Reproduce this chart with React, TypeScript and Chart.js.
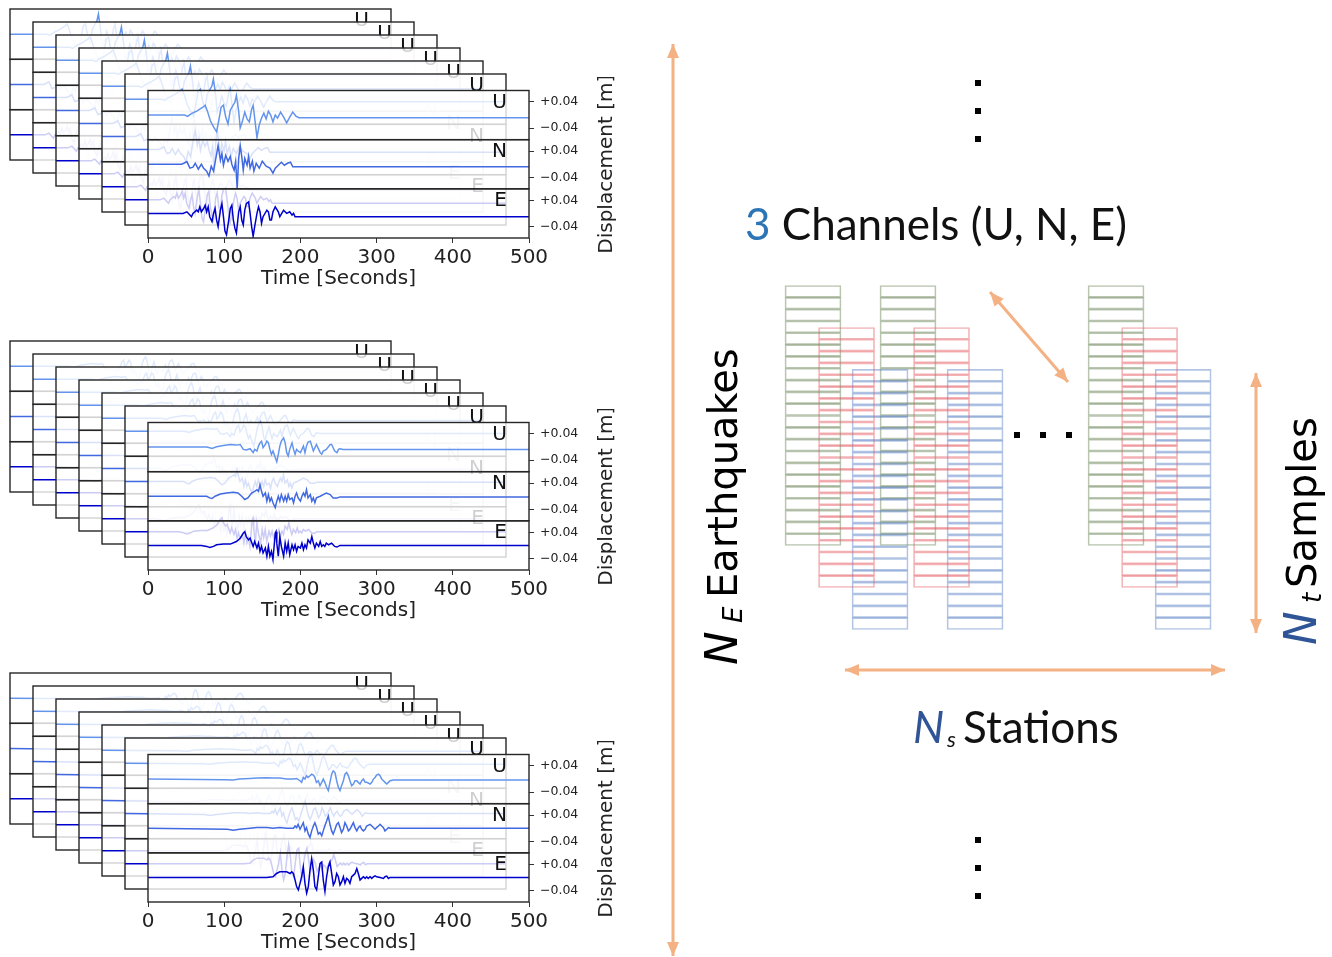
import React, { useEffect, useRef } from 'react';
import { Chart, registerables } from 'chart.js';

Chart.register(...registerables);

type Pt = [number, number]; // [time in s, displacement in mm]

// ---------------- data ----------------
const timeTicks = [0, 100, 200, 300, 400, 500];
const dispTicksMM = [-40, 40];
const channelNames = ['U', 'N', 'E'];
const traceColors = ['#6495ED', '#4169E1', '#0000CD'];
const stationsPerEvent = 7;

const ev1U: Pt[] = [[0,0],[48,0],[52,-4],[56,3],[60,8],[64,12],[68,18],[72,24],[75,30],[78,12],[82,-18],[86,-36],[90,-51],[93,-15],[96,24],[99,30],[102,-6],[105,-27],[108,15],[111,27],[114,39],[116,60],[119,12],[121,-39],[124,-18],[127,9],[130,-12],[133,-21],[136,18],[138,30],[140,-9],[143,-69],[146,-30],[149,-9],[152,6],[155,-12],[158,12],[161,0],[164,-21],[167,0],[170,-9],[174,9],[178,-6],[182,-24],[186,-6],[190,9],[194,-3],[198,-8],[500,-8]];
const ev1N: Pt[] = [[0,0],[44,0],[47,3],[51,8],[55,-12],[59,-9],[62,3],[66,-15],[70,0],[73,-12],[77,-21],[80,-36],[83,-6],[86,-21],[89,18],[92,57],[95,12],[97,33],[99,-3],[102,27],[105,9],[108,24],[110,0],[113,-18],[115,9],[117,-74],[119,18],[121,57],[123,24],[125,-18],[127,18],[130,-3],[132,24],[134,-12],[137,9],[139,-21],[142,3],[146,-12],[150,9],[155,-6],[160,-12],[164,-27],[167,-12],[171,-3],[175,6],[179,-3],[183,3],[187,6],[190,-8],[195,-8],[500,-8]];
const ev1E: Pt[] = [[0,0],[46,0],[51,5],[55,-5],[57,-10],[59,0],[64,10],[66,5],[68,20],[70,5],[73,15],[75,25],[77,5],[79,20],[81,-10],[84,-25],[86,0],[88,15],[90,-20],[92,-40],[95,10],[97,30],[99,-10],[101,-54],[103,-65],[106,-20],[108,15],[110,25],[112,-20],[114,-45],[116,-60],[119,5],[121,20],[123,-20],[125,-35],[127,10],[129,30],[132,35],[134,0],[136,-40],[138,-70],[140,-40],[143,0],[145,20],[147,5],[149,-30],[151,-10],[156,10],[158,5],[160,-20],[162,-20],[164,5],[167,20],[171,5],[173,-10],[178,10],[182,0],[186,5],[189,-5],[191,0],[193,-10],[500,-10]];

const ev2U: Pt[] = [[0,0],[77,0],[81,-2],[84,-4],[90,1],[99,5],[108,8],[116,6],[121,8],[125,-7],[129,-9],[134,-5],[138,-17],[140,-7],[143,-12],[145,3],[147,13],[149,18],[151,-2],[154,8],[156,18],[158,13],[160,-7],[162,-22],[164,-12],[167,-32],[169,-45],[171,-22],[173,3],[175,18],[178,28],[180,13],[182,-17],[184,-27],[186,-7],[189,13],[191,-7],[193,-22],[195,-7],[197,-12],[200,-17],[202,-7],[204,3],[206,-17],[208,3],[210,15],[213,18],[215,3],[217,-12],[219,-2],[221,8],[224,-7],[226,-17],[228,-22],[230,-12],[234,-7],[239,8],[241,8],[243,-2],[245,-12],[248,-17],[250,-7],[252,-5],[256,-7],[500,-7]];
const ev2N: Pt[] = [[0,0],[77,0],[81,-5],[84,-7],[88,0],[95,7],[103,10],[112,12],[118,10],[123,0],[127,-10],[131,-5],[136,10],[140,15],[143,20],[145,15],[147,35],[149,15],[151,0],[154,10],[156,-15],[158,5],[160,-15],[162,-5],[164,-20],[167,-35],[169,-15],[171,0],[173,-15],[175,5],[178,-15],[180,0],[182,-15],[184,5],[186,-10],[189,-5],[191,-20],[193,0],[195,10],[197,-5],[200,-15],[202,0],[204,10],[206,0],[208,20],[210,-5],[213,5],[215,-15],[217,-5],[219,-20],[221,-5],[226,0],[230,5],[234,10],[239,5],[243,-5],[248,-5],[252,-2],[500,-2]];
const ev2E: Pt[] = [[0,0],[70,0],[77,-3],[81,-6],[86,-3],[90,2],[99,4],[108,4],[116,12],[121,22],[125,37],[127,42],[129,27],[132,17],[134,22],[138,-3],[140,12],[143,-8],[145,7],[147,-18],[149,-3],[151,-23],[154,-8],[156,-33],[158,-3],[160,-33],[162,-18],[164,-43],[167,37],[168,42],[169,7],[171,-33],[173,27],[175,-3],[178,-33],[180,7],[182,-18],[184,7],[186,-28],[189,2],[191,-13],[193,2],[195,-18],[197,-3],[200,-8],[202,7],[204,-13],[206,2],[208,-8],[210,17],[213,7],[215,27],[217,7],[219,-8],[221,7],[224,-3],[226,12],[228,-3],[230,2],[232,-3],[234,7],[237,2],[241,7],[245,-3],[248,-5],[252,0],[500,0]];

const ev3U: Pt[] = [[0,0],[100,-2],[112,-3],[120,0],[134,2],[143,3],[156,4],[164,3],[173,3],[182,0],[191,0],[195,2],[199.5,-5],[201.6,-10],[203.8,5],[206,0],[208,10],[210,5],[212.6,10],[214.8,15],[217,12],[219,5],[221,-10],[223.5,-5],[225.7,-20],[228,-10],[230,0],[232,-10],[234.4,-25],[236.6,-35],[238.8,-10],[241,15],[243,25],[245.4,20],[247.6,-5],[249.8,-25],[252,-35],[254,-20],[256.4,-5],[258.5,15],[260.7,20],[263,10],[265,-5],[267.3,-20],[269.5,-15],[271.7,-5],[274,-5],[276,-10],[278.3,-15],[280.5,-5],[282.7,0],[285,-10],[287,-10],[291.5,-15],[293.7,-10],[295.8,0],[298,5],[300,12],[302.4,15],[304.6,10],[306.7,0],[309,-5],[311,-10],[313.3,-15],[315.5,-10],[317.7,-5],[322,-3],[500,-3]];
const ev3N: Pt[] = [[0,0],[104,-3],[112,-6],[120,-3],[134,0],[143,2],[156,2],[164,0],[173,2],[182,0],[191,0],[193,7],[195,2],[197,12],[199.5,-3],[201.6,7],[203.8,17],[206,-8],[208,2],[210.4,-18],[212.6,-28],[214.8,-8],[217,7],[219,17],[221.3,2],[223.5,-18],[225.7,-13],[228,-23],[230,-8],[232,7],[234.4,22],[236.6,37],[238.8,12],[241,-8],[243,-18],[245.4,-3],[247.6,12],[249.8,17],[252,2],[254,-13],[256.4,-3],[258.5,17],[260.7,7],[263,-8],[265,-3],[267.3,7],[269.5,17],[271.7,2],[274,-8],[276,2],[278.3,7],[280.5,-3],[282.7,-8],[285,-3],[287,7],[291.5,12],[293.7,7],[295.8,2],[298,-3],[300,2],[302.4,7],[304.6,12],[306.7,7],[309,2],[311,-8],[313.3,-3],[315.5,2],[317.7,0],[500,0]];
const ev3E: Pt[] = [[0,0],[155.7,0],[164,2],[168.7,12],[173,17],[177.6,17],[182,17],[186.4,12],[188.6,17],[190.8,12],[193,-8],[195,-28],[197.3,-38],[199.5,-18],[201.6,2],[203.8,32],[206,-18],[208.2,-48],[210.4,-28],[212.6,22],[214.8,57],[217,22],[219,-28],[221.3,-38],[223.5,2],[225.7,42],[228,47],[230,-8],[232.2,-43],[234.4,2],[236.6,32],[238.8,47],[241,12],[243.2,-23],[245.4,-13],[247.6,12],[249.8,2],[252,-23],[254.2,-13],[256.4,2],[258.5,-18],[260.7,-3],[262.9,-8],[265,-18],[267.3,2],[269.5,7],[271.7,12],[274,27],[276,12],[278.3,-8],[280.5,-3],[282.7,2],[285,-3],[287,2],[289,-3],[291.5,2],[293.7,-3],[295.8,2],[298,5],[300,2],[304.6,0],[309,-3],[311,2],[313.3,4],[315.5,-3],[317.7,0],[500,0]];

const eventTraces: Pt[][][] = [
  [ev1U, ev1N, ev1E],
  [ev2U, ev2N, ev2E],
  [ev3U, ev3N, ev3E],
];

// right-hand diagram
const diagramStations = ['1', '2', 'Ns'];
const diagramChannels = ['U', 'N', 'E'];
const samplesPerColumn = 22;
const cellColors = ['rgba(115,140,95,0.5)', 'rgba(228,85,90,0.45)', 'rgba(85,125,195,0.45)'];

// ---------------- layout ----------------
const PANEL_W = 381;
const PANEL_H = 151;
const FRONT_X = 148;
const EVENT_TOP = [87, 419, 751];
const SHIFT_X = 23;
const SHIFT_Y = 13;
const FRONT_PAD_L = 40;
const FRONT_PAD_T = 10;
const RIGHT_AXIS_W = 109;
const BOTTOM_AXIS_H = 60;
const Y_IDS = ['yU', 'yN', 'yE'];
const FONT = '"DejaVu Sans"';

const OVERLAY = { left: 640, top: 0, width: 692, height: 957 };
const GRID = { left: 785, top: 285.5, slot: 95, cell: 11.82 };
const stationSlots = [0, 1, 3.19];
const chanShift = { x: 0.353, y: 3.55 };
const COL_W = 56;
const ARROW = '#F4B183';
const arrowSegments = [
  [673, 44, 673, 956],
  [990, 292, 1068, 382],
  [1256, 373, 1256, 633],
  [845, 670, 1225, 670],
];

const fmtDisp = (v: number) => (v > 0 ? '+' : '\u2212') + (Math.abs(v) / 1000).toFixed(2);

function panelConfig(traces: Pt[][], front: boolean): any {
  const scales: any = {
    x: {
      type: 'linear', position: 'bottom', min: 0, max: 500,
      afterBuildTicks: (s: any) => { s.ticks = timeTicks.map((v) => ({ value: v })); },
      afterFit: (s: any) => { s.height = front ? BOTTOM_AXIS_H : 0; },
      grid: { display: front, drawOnChartArea: false, drawTicks: true, tickLength: 5, color: '#333' },
      border: { display: false },
      ticks: { display: front, padding: 3, maxRotation: 0, autoSkip: false, color: '#222', font: { family: FONT, size: 20 } },
      title: { display: front, text: 'Time [Seconds]', color: '#222', font: { family: FONT, size: 20 }, padding: { top: 0, bottom: 7 } },
    },
  };
  Y_IDS.forEach((id) => {
    scales[id] = {
      type: 'linear', position: 'right', stack: 'channels', stackWeight: 1, min: -75, max: 75,
      afterBuildTicks: (s: any) => { s.ticks = dispTicksMM.map((v) => ({ value: v })); },
      afterFit: (s: any) => { s.width = front ? RIGHT_AXIS_W : 0; },
      grid: { display: front, drawOnChartArea: false, drawTicks: true, tickLength: 5, color: '#333' },
      border: { display: false },
      ticks: { display: front, padding: 6, color: '#222', font: { family: FONT, size: 12.5 }, callback: (v: number) => fmtDisp(v) },
    };
  });

  const panelPlugin = {
    id: 'panelFrame',
    beforeDraw(chart: any) {
      const { ctx, chartArea: a } = chart;
      ctx.save();
      ctx.fillStyle = 'rgba(255,255,255,0.8)';
      ctx.fillRect(a.left, a.top, a.width, a.height);
      ctx.restore();
    },
    afterDatasetsDraw(chart: any) {
      const { ctx, chartArea: a } = chart;
      ctx.save();
      ctx.strokeStyle = '#262626';
      ctx.lineWidth = 1.4;
      ctx.fillStyle = '#111';
      ctx.font = `20px ${FONT}`;
      ctx.textAlign = 'right';
      ctx.textBaseline = 'middle';
      Y_IDS.forEach((id, i) => {
        const s = chart.scales[id];
        ctx.strokeRect(a.left, s.top, a.width, s.bottom - s.top);
        ctx.fillText(channelNames[i], a.right - 22, s.top + 12);
      });
      ctx.restore();
    },
    afterDraw(chart: any) {
      if (!front) return;
      const { ctx, chartArea: a } = chart;
      ctx.save();
      ctx.translate(a.right + 78, (a.top + a.bottom) / 2);
      ctx.rotate(-Math.PI / 2);
      ctx.fillStyle = '#222';
      ctx.font = `20px ${FONT}`;
      ctx.textAlign = 'center';
      ctx.textBaseline = 'middle';
      ctx.fillText('Displacement [m]', 0, 0);
      ctx.restore();
    },
  };

  return {
    type: 'line',
    data: {
      datasets: traces.map((tr, i) => ({
        label: channelNames[i],
        data: tr.map(([t, v]) => ({ x: t, y: v })),
        yAxisID: Y_IDS[i],
        borderColor: traceColors[i],
        borderWidth: 1.5,
        pointRadius: 0,
        tension: 0,
      })),
    },
    options: {
      responsive: false,
      animation: false,
      devicePixelRatio: 1,
      events: [],
      layout: { padding: front ? { left: FRONT_PAD_L, top: FRONT_PAD_T, right: 0, bottom: 0 } : 2 },
      plugins: { legend: { display: false }, tooltip: { enabled: false } },
      scales,
    },
    plugins: [panelPlugin],
  };
}

function drawHead(ctx: CanvasRenderingContext2D, tx: number, ty: number, fx: number, fy: number) {
  const ang = Math.atan2(ty - fy, tx - fx);
  const L = 14, W = 6;
  const c = Math.cos(ang), s = Math.sin(ang);
  ctx.beginPath();
  ctx.moveTo(tx, ty);
  ctx.lineTo(tx - L * c + W * s, ty - L * s - W * c);
  ctx.lineTo(tx - L * c - W * s, ty - L * s + W * c);
  ctx.closePath();
  ctx.fill();
}

function overlayConfig(): any {
  const px2x = (px: number) => (px - GRID.left) / GRID.slot;
  const px2y = (py: number) => (py - GRID.top) / GRID.cell;
  const datasets: any[] = [];
  diagramStations.forEach((st, s) => {
    diagramChannels.forEach((ch, c) => {
      const xc = stationSlots[s] + c * chanShift.x + COL_W / 2 / GRID.slot;
      const y0 = c * chanShift.y;
      datasets.push({
        type: 'bar',
        label: `${st}-${ch}`,
        data: Array.from({ length: samplesPerColumn }, (_, k) => ({ x: xc, y: [y0 + k, y0 + k + 1] })),
        backgroundColor: 'rgba(0,0,0,0)',
        borderColor: cellColors[c],
        borderWidth: 1,
        borderSkipped: false,
        barThickness: COL_W,
        grouped: false,
        order: 2,
      });
    });
  });
  arrowSegments.forEach((seg, i) => {
    datasets.push({
      type: 'line',
      label: `arrow${i}`,
      isArrow: true,
      data: [{ x: px2x(seg[0]), y: px2y(seg[1]) }, { x: px2x(seg[2]), y: px2y(seg[3]) }],
      borderColor: ARROW,
      borderWidth: 3,
      pointRadius: 0,
      clip: false,
      order: 1,
    });
  });

  const ox = OVERLAY.left;
  const annot = {
    id: 'annot',
    afterDatasetsDraw(chart: any) {
      const ctx: CanvasRenderingContext2D = chart.ctx;
      ctx.save();
      ctx.fillStyle = ARROW;
      chart.data.datasets.forEach((ds: any, i: number) => {
        if (!ds.isArrow) return;
        const pts = chart.getDatasetMeta(i).data;
        const a = pts[0], b = pts[pts.length - 1];
        drawHead(ctx, b.x, b.y, a.x, a.y);
        drawHead(ctx, a.x, a.y, b.x, b.y);
      });
      ctx.restore();
    },
    afterDraw(chart: any) {
      const ctx: CanvasRenderingContext2D = chart.ctx;
      ctx.save();
      ctx.textBaseline = 'alphabetic';
      ctx.textAlign = 'left';
      // 3 Channels (U, N, E)
      ctx.font = '44px Lato';
      ctx.fillStyle = '#2E75B6';
      ctx.fillText('3', 745 - ox, 240);
      const w3 = ctx.measureText('3 ').width;
      ctx.fillStyle = '#111';
      ctx.fillText('Channels (U, N, E)', 745 - ox + w3, 240);
      // Ns Stations
      ctx.font = 'italic 44px Lato';
      ctx.fillStyle = '#2F5597';
      ctx.fillText('N', 913 - ox, 743);
      ctx.font = 'italic 22px Lato';
      ctx.fillStyle = '#111';
      ctx.fillText('s', 947 - ox, 747);
      ctx.font = '44px Lato';
      ctx.fillText('Stations', 963 - ox, 743);
      // NE Earthquakes (vertical)
      ctx.save();
      ctx.translate(737 - ox, 665);
      ctx.rotate(-Math.PI / 2);
      ctx.fillStyle = '#000';
      ctx.font = `italic 45px ${FONT}`;
      ctx.fillText('N', 0, 0);
      ctx.font = `italic 26px ${FONT}`;
      ctx.fillText('E', 42, 5);
      ctx.font = `40px ${FONT}`;
      ctx.fillText('Earthquakes', 67, 0);
      ctx.restore();
      // Nt Samples (vertical)
      ctx.save();
      ctx.translate(1316 - ox, 645);
      ctx.rotate(-Math.PI / 2);
      ctx.fillStyle = '#2F5597';
      ctx.font = `italic 45px ${FONT}`;
      ctx.fillText('N', 0, 0);
      ctx.fillStyle = '#000';
      ctx.font = `italic 26px ${FONT}`;
      ctx.fillText('t', 42, 5);
      ctx.font = `40px ${FONT}`;
      ctx.fillText('Samples', 57, 0);
      ctx.restore();
      // ellipsis dots
      ctx.fillStyle = '#000';
      const dots = [[978, 83], [978, 111], [978, 139], [978, 840], [978, 868], [978, 896], [1017, 435], [1043, 435], [1069, 435]];
      dots.forEach(([x, y]) => ctx.fillRect(x - ox - 3, y - 3, 6, 6));
      ctx.restore();
    },
  };

  return {
    type: 'bar',
    data: { datasets },
    options: {
      responsive: false,
      animation: false,
      devicePixelRatio: 1,
      events: [],
      layout: { padding: 0 },
      plugins: { legend: { display: false }, tooltip: { enabled: false } },
      scales: {
        x: { type: 'linear', display: false, offset: false, min: px2x(OVERLAY.left), max: px2x(OVERLAY.left + OVERLAY.width) },
        y: { type: 'linear', display: false, reverse: true, min: px2y(OVERLAY.top), max: px2y(OVERLAY.top + OVERLAY.height) },
      },
    },
    plugins: [annot],
  };
}

function ChartCanvas(props: { left: number; top: number; width: number; height: number; make: () => any }) {
  const ref = useRef<HTMLCanvasElement | null>(null);
  useEffect(() => {
    if (!ref.current) return;
    const chart = new Chart(ref.current, props.make());
    return () => chart.destroy();
  }, []);
  const { left, top, width, height } = props;
  return (
    <canvas
      ref={ref}
      width={width}
      height={height}
      style={{ position: 'absolute', left, top, width, height, display: 'block' }}
    />
  );
}

export default function App() {
  useEffect(() => {
    document.body.style.margin = '0';
    document.body.style.background = '#fff';
  }, []);
  const items: React.ReactNode[] = [];
  EVENT_TOP.forEach((top, k) => {
    for (let i = stationsPerEvent - 1; i >= 1; i--) {
      items.push(
        <ChartCanvas
          key={`ev${k}-st${i}`}
          left={FRONT_X - SHIFT_X * i - 2}
          top={top - SHIFT_Y * i - 2}
          width={PANEL_W + 4}
          height={PANEL_H + 4}
          make={() => panelConfig(eventTraces[k], false)}
        />
      );
    }
    items.push(
      <ChartCanvas
        key={`ev${k}-front`}
        left={FRONT_X - FRONT_PAD_L}
        top={top - FRONT_PAD_T}
        width={FRONT_PAD_L + PANEL_W + RIGHT_AXIS_W}
        height={FRONT_PAD_T + PANEL_H + BOTTOM_AXIS_H}
        make={() => panelConfig(eventTraces[k], true)}
      />
    );
  });
  return (
    <div style={{ position: 'absolute', left: 0, top: 0, width: 1332, height: 957, background: '#fff', overflow: 'hidden' }}>
      {items}
      <ChartCanvas left={OVERLAY.left} top={OVERLAY.top} width={OVERLAY.width} height={OVERLAY.height} make={overlayConfig} />
    </div>
  );
}
